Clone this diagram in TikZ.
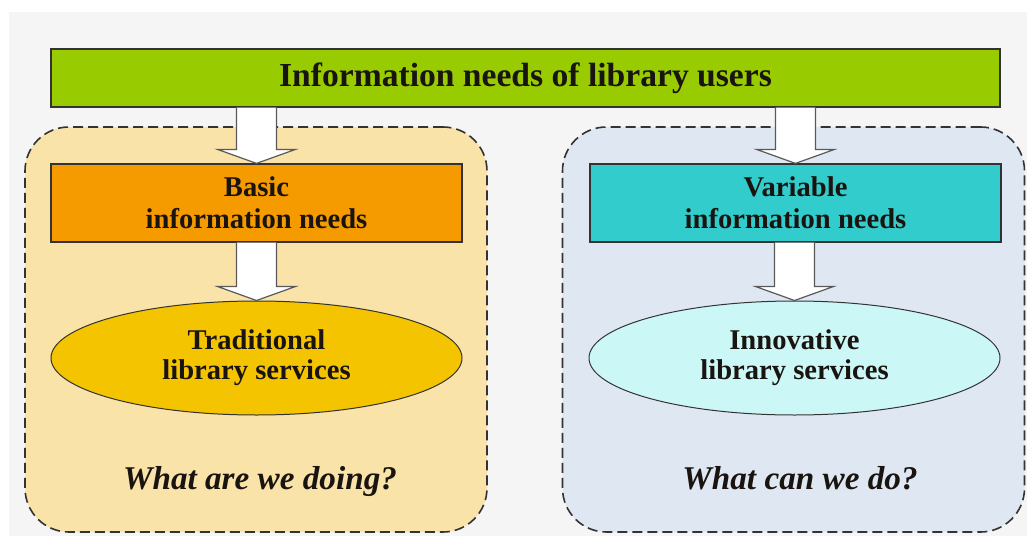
\documentclass[tikz,border=0pt]{standalone}
\usepackage{fontspec}
\setmainfont{Liberation Serif}
\usetikzlibrary{positioning,shapes,calc}

\definecolor{pagegray}{HTML}{F5F5F5}
\definecolor{usersgreen}{HTML}{99CC00}
\definecolor{basicorange}{HTML}{F59B00}
\definecolor{variableteal}{HTML}{33CCCC}
\definecolor{tradyellow}{HTML}{F5C400}
\definecolor{innovcyan}{HTML}{CCF7F7}
\definecolor{wheatbg}{HTML}{F9E3A8}
\definecolor{bluebg}{HTML}{DFE8F2}
\definecolor{inkdark}{HTML}{1A1410}

\tikzset{
    panel/.style={draw=black!80, dashed, dash pattern=on 5pt off 2.5pt, line width=0.8pt,
        rounded corners=22pt, minimum width=231pt, minimum height=202.5pt, inner sep=0pt, outer sep=0pt},
    titlebox/.style={draw=black!80, line width=0.6pt, fill=usersgreen, minimum width=474.5pt,
        minimum height=29pt, text=inkdark, font=\fontsize{16.8}{20}\selectfont\bfseries},
    needbox/.style={draw=black!80, line width=0.6pt, minimum width=205.5pt, minimum height=39pt,
        align=center, text=inkdark, font=\fontsize{14.3}{16}\selectfont\bfseries},
    servicebox/.style={ellipse, draw=black!80, line width=0.5pt, minimum width=205.5pt, minimum height=57pt,
        inner sep=0pt, align=center, text=inkdark, font=\fontsize{14.3}{15}\selectfont\bfseries},
    question/.style={anchor=base, text=inkdark, font=\fontsize{16.6}{20}\selectfont\bfseries\itshape},
    hollow/.style={draw=black!65, line width=0.6pt, fill=white}
}

% hollow block arrow from the bottom of #1 to the top of #2
\newcommand{\hollowarrow}[2]{%
    \draw[hollow] let \p1=(#1.south), \p2=(#2.north) in
        (\x2-10pt,\y1) -- (\x2-10pt,\y2+7pt) -- (\x2-19.5pt,\y2+7pt) -- (\x2,\y2)
        -- (\x2+19.5pt,\y2+7pt) -- (\x2+10pt,\y2+7pt) -- (\x2+10pt,\y1);
}

\begin{document}
\begin{tikzpicture}[x=0.5pt,y=-0.5pt]
    \useasboundingbox (0,0) rectangle (1027,540);
    \fill[pagegray] (9,12) rectangle (1027,536);

    \node[panel,fill=wheatbg] (leftpanel) at (256,329.5) {};
    \node[panel,fill=bluebg] (rightpanel) at (793.5,329.5) {};

    \node[titlebox] (users) at (525.5,78) {Information needs of library users};

    \node[needbox,fill=basicorange] (basic) at (256.5,203) {Basic\\information needs};
    \node[needbox,fill=variableteal] (variable) at (795.5,203) {Variable\\information needs};

    \node[servicebox,fill=tradyellow] (trad) at (256.5,358) {Traditional\\library services};
    \node[servicebox,fill=innovcyan] (innov) at (794.5,358) {Innovative\\library services};

    \node[question] (doing) at (260,489) {What are we doing?};
    \node[question] (cando) at (800,489) {What can we do?};

    \hollowarrow{users}{basic}
    \hollowarrow{users}{variable}
    \hollowarrow{basic}{trad}
    \hollowarrow{variable}{innov}
\end{tikzpicture}
\end{document}
